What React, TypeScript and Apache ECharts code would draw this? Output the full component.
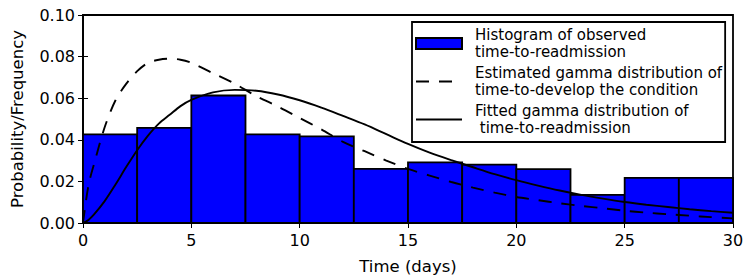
import React, { useEffect, useRef } from "react";
import * as echarts from "echarts";

const binStarts = [0, 2.5, 5, 7.5, 10, 12.5, 15, 17.5, 20, 22.5, 25, 27.5];
const binWidth = 2.5;
const binHeights = [0.0426, 0.0457, 0.0613, 0.0426, 0.0416, 0.026, 0.0291, 0.0281, 0.0259, 0.0135, 0.0217, 0.0217];

const curveDays = [0, 0.25, 0.5, 1, 1.5, 2, 2.5, 3, 3.5, 4, 4.5, 5, 6, 7, 8, 9, 10, 11, 12, 13, 14, 15, 16, 17, 18, 19, 20, 21, 22, 23, 24, 25, 26, 27, 28, 29, 30];
const estimatedGamma = [0, 0.018, 0.028, 0.046, 0.059, 0.067, 0.073, 0.077, 0.0785, 0.079, 0.0785, 0.077, 0.072, 0.067, 0.061, 0.056, 0.0505, 0.045, 0.039, 0.0345, 0.03, 0.026, 0.0228, 0.0197, 0.017, 0.0146, 0.0125, 0.011, 0.0095, 0.0082, 0.0071, 0.0059, 0.005, 0.0042, 0.0035, 0.0028, 0.0022];
const fittedGamma = [0, 0.0015, 0.004, 0.0105, 0.0185, 0.027, 0.035, 0.042, 0.0478, 0.052, 0.0562, 0.0592, 0.0628, 0.064, 0.0636, 0.0618, 0.059, 0.0555, 0.0515, 0.0474, 0.0427, 0.038, 0.0338, 0.0302, 0.0268, 0.0235, 0.0206, 0.018, 0.0156, 0.0135, 0.0117, 0.0101, 0.0088, 0.0077, 0.0066, 0.0057, 0.0049];

const histName = "Histogram of observed\ntime-to-readmission";
const estName = "Estimated gamma distribution of\ntime-to-develop the condition";
const fitName = "Fitted gamma distribution of\n time-to-readmission";

const FONT = "DejaVu Sans";
const FS = 15;
const TICK_FS = 16;
const NAME_FS = 16.5;

export default function App() {
  const ref = useRef<HTMLDivElement>(null);
  useEffect(() => {
    if (!ref.current) return;
    const chart = echarts.init(ref.current, null, { renderer: "svg" });
    const tickStyle = { inside: true, length: 5, lineStyle: { color: "#000", width: 1 } };
    chart.setOption({
      animation: false,
      grid: {
        left: 83, right: 11, top: 15, bottom: 53,
        outerBoundsMode: "none",
        containLabel: false,
        show: true, borderColor: "#000", borderWidth: 1.8, backgroundColor: "transparent",
      },
      legend: {
        orient: "vertical",
        left: 412,
        top: 22,
        padding: [4, 3, 5, 3],
        itemGap: 3,
        itemWidth: 46,
        itemHeight: 11,
        backgroundColor: "#fff",
        borderColor: "#000",
        borderWidth: 1.8,
        borderRadius: 0,
        selectedMode: false,
        textStyle: { fontFamily: FONT, fontSize: FS, color: "#000", lineHeight: 17.5, padding: [0, 0, 0, 8] },
        data: [
          { name: histName, icon: "rect" },
          { name: estName, itemStyle: { opacity: 0 } },
          { name: fitName, itemStyle: { opacity: 0 } },
        ],
      },
      xAxis: [
        {
          type: "value",
          min: 0,
          max: 30,
          interval: 5,
          name: "Time (days)",
          nameLocation: "middle",
          nameGap: 35,
          nameTextStyle: { fontFamily: FONT, fontSize: NAME_FS, color: "#000" },
          axisLine: { show: true, lineStyle: { color: "#000", width: 1.8 } },
          axisTick: tickStyle,
          axisLabel: { fontFamily: FONT, fontSize: TICK_FS, color: "#000", margin: 9 },
          splitLine: { show: false },
        },
        {
          type: "value",
          position: "top",
          min: 0,
          max: 30,
          interval: 5,
          axisLine: { show: false },
          axisTick: tickStyle,
          axisLabel: { show: false },
          splitLine: { show: false },
        },
      ],
      yAxis: [
        {
          type: "value",
          min: 0,
          max: 0.1,
          interval: 0.02,
          name: "Probability/Frequency",
          nameLocation: "middle",
          nameGap: 57,
          nameTextStyle: { fontFamily: FONT, fontSize: NAME_FS, color: "#000" },
          axisLine: { show: true, lineStyle: { color: "#000", width: 1.8 } },
          axisTick: tickStyle,
          axisLabel: { fontFamily: FONT, fontSize: TICK_FS, color: "#000", margin: 8, formatter: (v: number) => v.toFixed(2) },
          splitLine: { show: false },
        },
        {
          type: "value",
          position: "right",
          min: 0,
          max: 0.1,
          interval: 0.02,
          axisLine: { show: false },
          axisTick: tickStyle,
          axisLabel: { show: false },
          splitLine: { show: false },
        },
      ],
      series: [
        {
          name: histName,
          type: "custom",
          xAxisIndex: 0,
          yAxisIndex: 0,
          itemStyle: { color: "#0000ff", borderColor: "#000", borderWidth: 1.8 },
          data: binStarts.map((s, i) => [s, s + binWidth, binHeights[i]]),
          renderItem: (params: any, api: any) => {
            const p0 = api.coord([api.value(0), api.value(2)]);
            const p1 = api.coord([api.value(1), 0]);
            return {
              type: "rect",
              shape: { x: p0[0], y: p0[1], width: p1[0] - p0[0], height: p1[1] - p0[1] },
              style: { fill: "#0000ff", stroke: "#000", lineWidth: 1.8 },
            };
          },
          z: 1,
        },
        {
          name: estName,
          type: "line",
          symbol: "none",
          smooth: 0.3,
          lineStyle: { color: "#000", width: 1.9, type: [13, 10] },
          itemStyle: { color: "#000" },
          data: curveDays.map((d, i) => [d, estimatedGamma[i]]),
          z: 3,
        },
        {
          name: fitName,
          type: "line",
          symbol: "none",
          smooth: 0.3,
          lineStyle: { color: "#000", width: 1.9, type: "solid" },
          itemStyle: { color: "#000" },
          data: curveDays.map((d, i) => [d, fittedGamma[i]]),
          z: 3,
        },
      ],
    });
    return () => chart.dispose();
  }, []);
  return <div ref={ref} style={{ width: 744, height: 276, position: "absolute", left: 0, top: 0 }} />;
}
